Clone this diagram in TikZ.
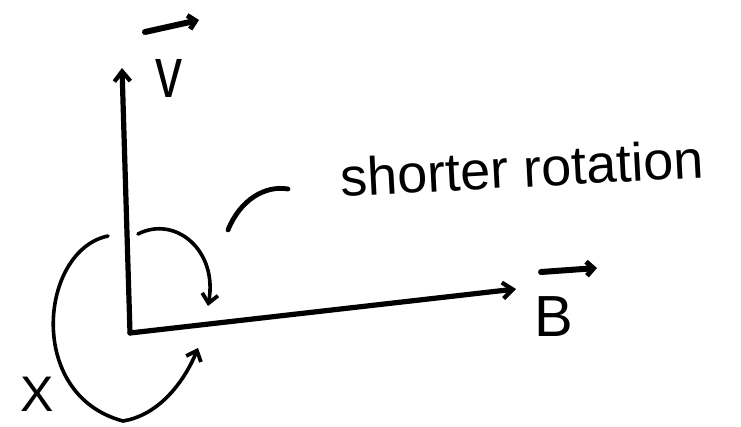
\documentclass[tikz,border=0pt]{standalone}
\usepackage{fontspec}
\setmainfont{Liberation Sans}
\usetikzlibrary{arrows.meta}
\begin{document}
\begin{tikzpicture}[x=1pt,y=-1pt,
  axis/.style={line width=5.2pt,line cap=round,-{Straight Barb[length=10pt,width=16pt,line width=4.2pt]}},
  rot/.style={line width=3.6pt,line cap=round,-{Straight Barb[length=9pt,width=16pt,line width=3.8pt]}},
  vecbar/.style={line width=6pt,line cap=round,-{Straight Barb[length=7pt,width=14pt,line width=5pt]}},
  lbl/.style={font=\fontsize{58}{58}\selectfont,inner sep=0pt}]
\useasboundingbox[fill=white] (0,0) rectangle (741,427);
\coordinate (O) at (130,333);
\coordinate (Vt) at (122,68);
\coordinate (Bt) at (516,289);
\draw[axis] (O) -- (Vt);
\draw[axis] (O) -- (Bt);
% labels
\node[lbl,font=\fontsize{72}{72}\selectfont,xscale=0.75] (v) at (169,78) {v};
\coordinate (va) at (145,32);
\coordinate (vb) at (199,20);
\draw[vecbar] (va) -- (vb);
\node[lbl] (B) at (554,317) {B};
\coordinate (ba) at (541,272);
\coordinate (bb) at (597,268);
\draw[vecbar] (ba) -- (bb);
% short rotation
\coordinate (s1) at (138,234);
\coordinate (s2) at (208,306);
\draw[rot] (s1) .. controls (175,215) and (218,250) .. (s2);
% long rotation
\coordinate (l1) at (108,236);
\coordinate (l2) at (198,348);
\draw[rot] (l1) .. controls (40,250) and (25,395) .. (123,421) .. controls (160,415) and (185,380) .. (l2);
% pointer stroke
\coordinate (p1) at (228,230);
\coordinate (p2) at (288,189);
\draw[line width=4.8pt,line cap=round] (p1) .. controls (240,200) and (265,185) .. (p2);
\node[lbl,font=\fontsize{54}{54}\selectfont,rotate=3] (txt) at (522,168) {shorter rotation};
\node[lbl,font=\fontsize{50}{50}\selectfont] (X) at (37,394) {X};
\end{tikzpicture}
\end{document}
